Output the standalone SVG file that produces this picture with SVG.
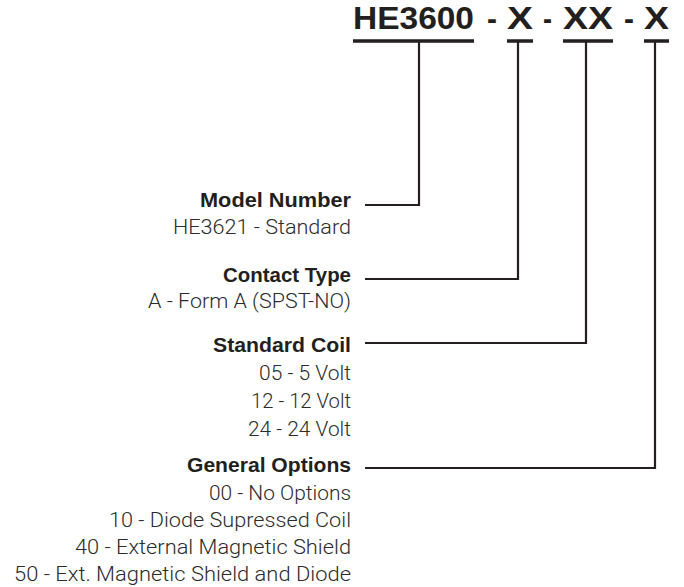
<svg xmlns="http://www.w3.org/2000/svg" width="684" height="587" viewBox="0 0 684 587">
<style>
.t{font-family:"Liberation Sans",Arial,sans-serif;font-weight:bold;font-size:31px;fill:#231f20}
.h{font-family:"Liberation Sans",Arial,sans-serif;font-weight:bold;font-size:21px;fill:#231f20;text-anchor:end}
.r{font-family:Roboto,"Liberation Sans",Arial,sans-serif;font-weight:300;font-size:21px;fill:#2b2b2b;text-anchor:end}
.ul{stroke:#231f20;stroke-width:3.5;fill:none}
.c{stroke:#231f20;stroke-width:2.2;fill:none}
</style>
<rect width="684" height="587" fill="#fff"/>
<g id="title">
<text class="t" x="353" y="29" textLength="121" lengthAdjust="spacingAndGlyphs">HE3600</text>
<text class="t" x="487" y="29" textLength="10" lengthAdjust="spacingAndGlyphs">-</text>
<text class="t" x="507" y="29" textLength="26" lengthAdjust="spacingAndGlyphs">X</text>
<text class="t" x="543" y="29" textLength="9" lengthAdjust="spacingAndGlyphs">-</text>
<text class="t" x="563" y="29" textLength="50" lengthAdjust="spacingAndGlyphs">XX</text>
<text class="t" x="624" y="29" textLength="10" lengthAdjust="spacingAndGlyphs">-</text>
<text class="t" x="644" y="29" textLength="25" lengthAdjust="spacingAndGlyphs">X</text>
<path class="ul" d="M353,41H474M507,41H533M563,41H613M644,41H669"/>
</g>
<g id="connectors">
<path class="c" d="M365,205H419V42"/>
<path class="c" d="M365,279H518V42"/>
<path class="c" d="M365,343H586V42"/>
<path class="c" d="M365,468H655V42"/>
</g>
<g id="model-number">
<text class="h" x="351" y="207" textLength="151" lengthAdjust="spacingAndGlyphs">Model Number</text>
<text class="r" x="351" y="234" textLength="178" lengthAdjust="spacingAndGlyphs">HE3621 - Standard</text>
</g>
<g id="contact-type">
<text class="h" x="351" y="282" textLength="128" lengthAdjust="spacingAndGlyphs">Contact Type</text>
<text class="r" x="351" y="308" textLength="203" lengthAdjust="spacingAndGlyphs">A - Form A (SPST-NO)</text>
</g>
<g id="standard-coil">
<text class="h" x="351" y="352" textLength="138" lengthAdjust="spacingAndGlyphs">Standard Coil</text>
<text class="r" x="351" y="380" textLength="92" lengthAdjust="spacingAndGlyphs">05 - 5 Volt</text>
<text class="r" x="351" y="408" textLength="100" lengthAdjust="spacingAndGlyphs">12 - 12 Volt</text>
<text class="r" x="351" y="436" textLength="103" lengthAdjust="spacingAndGlyphs">24 - 24 Volt</text>
</g>
<g id="general-options">
<text class="h" x="351" y="472" textLength="164" lengthAdjust="spacingAndGlyphs">General Options</text>
<text class="r" x="351" y="500" textLength="142" lengthAdjust="spacingAndGlyphs">00 - No Options</text>
<text class="r" x="351" y="527" textLength="242" lengthAdjust="spacingAndGlyphs">10 - Diode Supressed Coil</text>
<text class="r" x="351" y="554" textLength="276" lengthAdjust="spacingAndGlyphs">40 - External Magnetic Shield</text>
<text class="r" x="351" y="581" textLength="337" lengthAdjust="spacingAndGlyphs">50 - Ext. Magnetic Shield and Diode</text>
</g>
</svg>
